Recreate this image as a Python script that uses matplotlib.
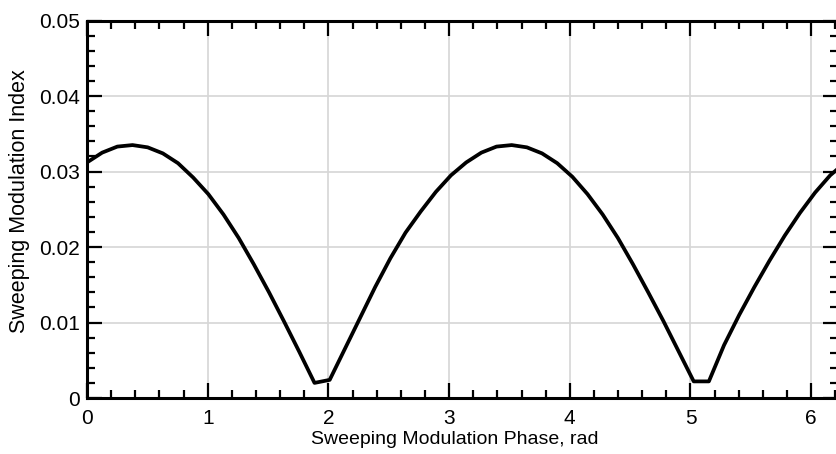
import numpy as np
import matplotlib
matplotlib.use("Agg")
import matplotlib.pyplot as plt
from matplotlib.ticker import MultipleLocator, FuncFormatter

# Sampled phase (51 samples over one full turn) and read-off modulation index
phase = np.linspace(0, 2 * np.pi, 51)
index = [0.0312, 0.0325, 0.0333, 0.0335, 0.0332, 0.0324, 0.0311, 0.0292, 0.0270,
         0.0243, 0.0212, 0.0177, 0.0140, 0.0101, 0.0061, 0.0020, 0.0024, 0.0065,
         0.0106, 0.0147, 0.0185, 0.0219, 0.0247, 0.0273, 0.0295, 0.0312, 0.0325,
         0.0333, 0.0335, 0.0332, 0.0324, 0.0311, 0.0293, 0.0270, 0.0243, 0.0212,
         0.0177, 0.0140, 0.0102, 0.0062, 0.0022, 0.0022, 0.0070, 0.0110, 0.0147,
         0.0182, 0.0215, 0.0245, 0.0272, 0.0295, 0.0312]

x_ticks = [0, 1, 2, 3, 4, 5, 6]
y_ticks = [0, 0.01, 0.02, 0.03, 0.04, 0.05]
x_label = "Sweeping Modulation Phase, rad"
y_label = "Sweeping Modulation Index"

plt.rcParams['font.family'] = ['Liberation Sans', 'DejaVu Sans']

W, H = 837, 454
fig = plt.figure(figsize=(W / 100, H / 100), dpi=100)
left, right, top, bottom = 87, 838, 20.5, 398
ax = fig.add_axes([left / W, 1 - bottom / H, (right - left) / W, (bottom - top) / H])

ax.plot(phase, index, color='black', lw=2.7, solid_joinstyle='round', zorder=3)

ax.set_xlim(0, (right - left) / 120.7)
ax.set_ylim(0, 0.05)
ax.set_xticks(x_ticks)
ax.set_yticks(y_ticks)
ax.xaxis.set_minor_locator(MultipleLocator(0.2))
ax.yaxis.set_minor_locator(MultipleLocator(0.002))
ax.yaxis.set_major_formatter(FuncFormatter(lambda v, p: f"{v:g}"))

ax.grid(True, which='major', color='#d6d6d6', lw=1.2, zorder=0)
ax.tick_params(which='both', direction='in', top=True, right=True,
               labelsize=15, color='black')
ax.tick_params(which='major', length=11, width=1.6)
ax.tick_params(axis='x', which='major', pad=8)
ax.tick_params(axis='y', which='major', pad=5)
ax.tick_params(which='minor', length=5.5, width=1.6)
for s in ax.spines.values():
    s.set_linewidth(2.2)

ax.set_xlabel(x_label, fontsize=14)
ax.set_ylabel(y_label, fontsize=15.5)
ax.xaxis.set_label_coords((455 - left) / (right - left), -(440 - bottom) / (bottom - top))
ax.yaxis.set_label_coords(-(left - 20) / (right - left), (bottom - 201) / (bottom - top))
ax.xaxis.label.set_va('center')
ax.yaxis.label.set_va('center')

fig.savefig("out.png", dpi=100)
